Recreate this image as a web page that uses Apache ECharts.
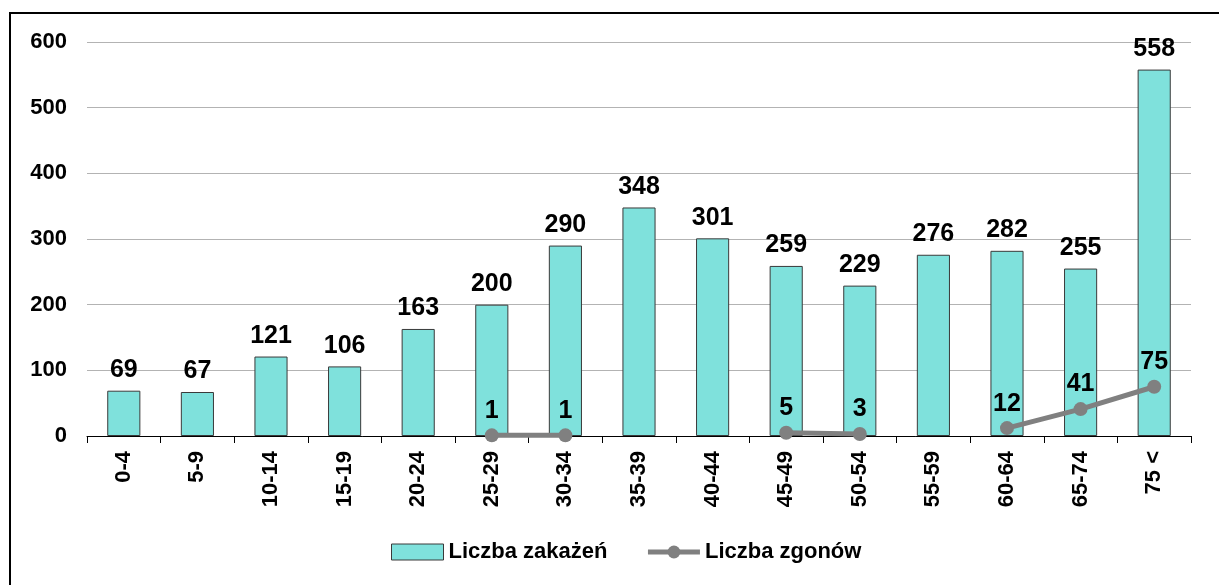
<!DOCTYPE html>
<html>
<head>
<meta charset="utf-8">
<script src="https://cdn.jsdelivr.net/npm/echarts@6/dist/echarts.min.js"></script>
<style>
  html, body { margin: 0; padding: 0; background: #fff; overflow: hidden; }
  #frame { position: absolute; left: 9px; top: 12px; width: 1240px; height: 600px; border: 2px solid #000; box-sizing: border-box; }
  #main { position: absolute; left: 0; top: 0; width: 1219px; height: 585px; }
</style>
</head>
<body>
<div id="frame"></div>
<div id="main"></div>
<script>
// age groups and counts
const categories = ["0-4", "5-9", "10-14", "15-19", "20-24", "25-29", "30-34", "35-39", "40-44", "45-49", "50-54", "55-59", "60-64", "65-74", "75 <"];
const infections = [69, 67, 121, 106, 163, 200, 290, 348, 301, 259, 229, 276, 282, 255, 558];
const deaths = [null, null, null, null, null, 1, 1, null, null, 5, 3, null, 12, 41, 75];
const yTicks = [0, 100, 200, 300, 400, 500, 600];

const font = "'Liberation Sans', Arial, sans-serif";

const myChart = echarts.init(document.getElementById("main"));

const option = {
    animation: false,
    grid: { left: 87, right: 28, top: 42, bottom: 149 },
    legend: {
        left: 386,
        bottom: 17,
        itemGap: 38,
        itemWidth: 52,
        itemHeight: 16,
        itemStyle: { borderColor: "#3a3a3a", borderWidth: 1 },
        textStyle: { fontFamily: font, fontWeight: "bold", fontSize: 22, color: "#000" },
        data: [
            { name: "Liczba zakażeń", icon: "rect" },
            { name: "Liczba zgonów", lineStyle: { width: 5, color: "#808080" }, itemStyle: { borderWidth: 0 } }
        ]
    },
    xAxis: {
        type: "category",
        data: categories,
        axisLine: { lineStyle: { color: "#000", width: 1 } },
        axisTick: { show: true, length: 7, lineStyle: { color: "#000" } },
        axisLabel: { rotate: 90, margin: 15, fontFamily: font, fontWeight: "bold", fontSize: 22, color: "#000" }
    },
    yAxis: {
        type: "value",
        min: yTicks[0],
        max: yTicks[yTicks.length - 1],
        interval: 100,
        axisLine: { show: false },
        axisTick: { show: false },
        splitLine: { lineStyle: { color: "#b3b3b3", width: 1 } },
        axisLabel: { margin: 20, fontFamily: font, fontWeight: "bold", fontSize: 22, color: "#000" }
    },
    series: [
        {
            name: "Liczba zakażeń",
            type: "bar",
            data: infections,
            barWidth: "45%",
            itemStyle: { color: "#7fe1dc", borderColor: "#3a3a3a", borderWidth: 1 },
            label: { show: true, position: "top", distance: 8, fontFamily: font, fontWeight: "bold", fontSize: 25, color: "#000" }
        },
        {
            name: "Liczba zgonów",
            type: "line",
            data: deaths,
            connectNulls: false,
            symbol: "circle",
            symbolSize: 14,
            lineStyle: { color: "#808080", width: 5 },
            itemStyle: { color: "#808080" },
            label: { show: true, position: "top", distance: 5, fontFamily: font, fontWeight: "bold", fontSize: 25, color: "#000" }
        }
    ]
};

myChart.setOption(option);
</script>
</body>
</html>
